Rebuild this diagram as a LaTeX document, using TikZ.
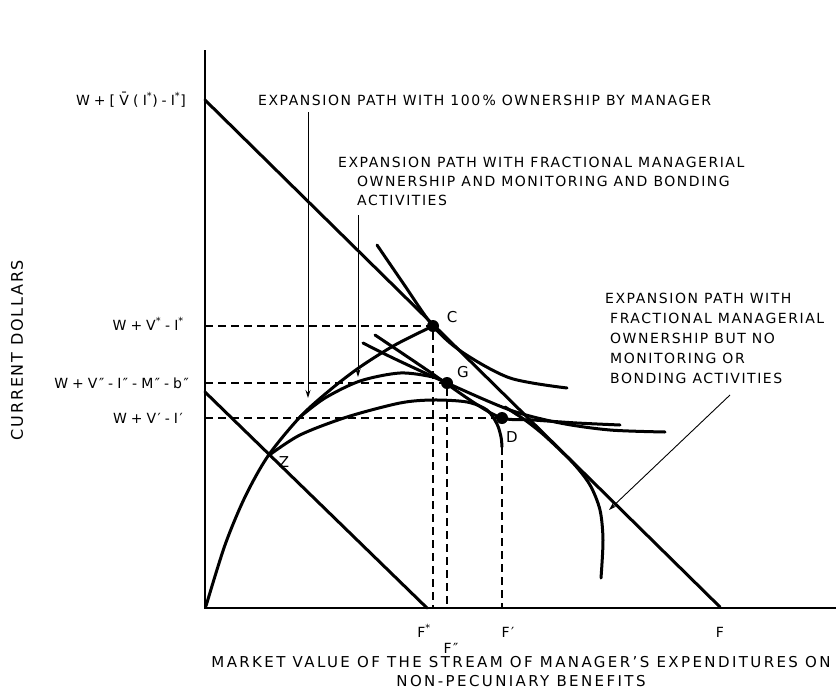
\documentclass[tikz,border=0pt]{standalone}
\usepackage{fontspec}
\setmainfont{DejaVu Sans}[LetterSpace=11]
\usetikzlibrary{arrows.meta}

\newcommand{\op}[1]{\hspace{4pt}#1\hspace{4pt}}

\begin{document}
\begin{tikzpicture}[x=1pt, y=-1pt,
    curve/.style={line width=3pt, line cap=round},
    guide/.style={line width=2.3pt, dash pattern=on 8pt off 5pt},
    pointer/.style={line width=0.9pt, -{Stealth[length=8pt, width=5pt]}},
    dot/.style={circle, fill, inner sep=0pt, minimum size=12pt},
    lbl/.style={font=\fontsize{14}{17}\selectfont, inner sep=0pt},
    big/.style={font=\fontsize{15}{18}\selectfont, inner sep=0pt}
]
    \useasboundingbox (0,0) rectangle (839,691);

    % axes
    \coordinate (O) at (205,608);
    \coordinate (ytop) at (205,50);
    \coordinate (xend) at (836,608);
    \draw[line width=1.9pt] (ytop) -- (O) -- (xend);

    % budget lines
    \coordinate (Vstar) at (205,100);
    \coordinate (F) at (720,607);
    \coordinate (Vz) at (205,392);
    \coordinate (Fz) at (427,608);
    \draw[curve] (Vstar) -- (F);
    \draw[curve] (Vz) -- (Fz);

    \node[dot] (C) at (433,326) {};
    \node[dot] (G) at (447,383) {};
    \node[dot] (D) at (502,418) {};
    \coordinate (Z) at (268,456);
    \coordinate (Dend) at (502,447);

    % expansion paths
    \draw[curve] plot[smooth] coordinates {(206,606) (225,545) (245,497) (Z) (300,417) (330,390) (360,367) (395,345) (C.center)};
    \draw[curve] plot[smooth] coordinates {(300,417) (325,398) (360,381) (400,373) (433,377) (G.center)};
    \draw[curve] plot[smooth] coordinates {(Z) (300,435) (347,417) (400,403) (433,400) (467,402) (487,410) (497,424) (501,437) (Dend)};
    \draw[curve] plot[smooth] coordinates {(505,407) (525,420) (545,436) (573,463) (590,485) (600,510) (603,540) (601,578)};

    % indifference curves
    \draw[curve] plot[smooth] coordinates {(377,245) (403,283) (C.center) (462,352) (510,378) (567,388)};
    \draw[curve] plot[smooth] coordinates {(363,343) (393,358) (G.center) (510,410) (560,423) (610,430) (665,432)};
    \draw[curve] plot[smooth] coordinates {(375,335) (427,370) (473,402) (D.center) (533,420) (577,423) (620,425)};

    % dashed guides
    \draw[guide] (O |- C.center) -- (C.center) -- (C.center |- O);
    \draw[guide] (O |- G.center) -- (G.center) -- (G.center |- O);
    \draw[guide] (O |- D.center) -- (D.center);
    \draw[guide] (Dend) -- (Dend |- O);

    % labels on the curves
    \node[big] (labC) at (452,317) {C};
    \node[big] (labG) at (463,372) {G};
    \node[big] (labD) at (512,437) {D};
    \node[big] (labZ) at (284,462) {Z};

    % vertical axis values
    \node[lbl, anchor=base east] (v100) at (186,105) {\addfontfeatures{LetterSpace=30}W\op{+}[\={V}(I\textsuperscript{*})\op{-}I\textsuperscript{*}]};
    \node[lbl, anchor=base east] (vC) at (184,330) {W\op{+}V\textsuperscript{*}\op{-}I\textsuperscript{*}};
    \node[lbl, anchor=base east] (vG) at (189,388) {W\op{+}V″\op{-}I″\op{-}M″\op{-}b″};
    \node[lbl, anchor=base east] (vD) at (183,423) {W\op{+}V′\op{-}I′};

    % horizontal axis values
    \node[lbl, anchor=base] (fC) at (424,637) {F\textsuperscript{*}};
    \node[lbl, anchor=base] (fG) at (451,653) {F″};
    \node[lbl, anchor=base] (fD) at (508,637) {F′};
    \node[lbl, anchor=base] (fF) at (720,637) {F};

    % expansion path notes
    \node[lbl, anchor=base west] (path100) at (258,105) {EXPANSION PATH WITH 100\,\% OWNERSHIP BY MANAGER};
    \node[lbl, anchor=base west] (mon1) at (338,167) {EXPANSION PATH WITH FRACTIONAL MANAGERIAL};
    \node[lbl, anchor=base west] (mon2) at (357,186) {OWNERSHIP AND MONITORING AND BONDING};
    \node[lbl, anchor=base west] (mon3) at (357,205) {ACTIVITIES};
    \foreach \txt [count=\i] in {FRACTIONAL MANAGERIAL, OWNERSHIP BUT NO, MONITORING OR, BONDING ACTIVITIES} {
        \node[lbl, anchor=base west] (nomon\i) at (610,303+20*\i) {\txt};
    }
    \node[lbl, anchor=base west] (nomon0) at (605,303) {EXPANSION PATH WITH};

    \coordinate (s100) at (308,112);
    \coordinate (e100) at (308,398);
    \coordinate (smon) at (358,215);
    \coordinate (emon) at (358,377);
    \coordinate (slead) at (730,395);
    \coordinate (elead) at (609,510);
    \draw[pointer] (s100) -- (e100);
    \draw[pointer] (smon) -- (emon);
    \draw[pointer] (slead) -- (elead);

    % axis titles
    \node[lbl, font=\fontsize{16}{19}\selectfont, rotate=90] (ytitle) at (17,350) {CURRENT DOLLARS};
    \node[lbl, font=\fontsize{15}{18}\selectfont\addfontfeatures{LetterSpace=16}, anchor=base] (xtitle1) at (521,667) {MARKET VALUE OF THE STREAM OF MANAGER’S EXPENDITURES ON};
    \node[lbl, font=\fontsize{15}{18}\selectfont\addfontfeatures{LetterSpace=16}, anchor=base] (xtitle2) at (521,686) {NON-PECUNIARY BENEFITS};
\end{tikzpicture}
\end{document}
